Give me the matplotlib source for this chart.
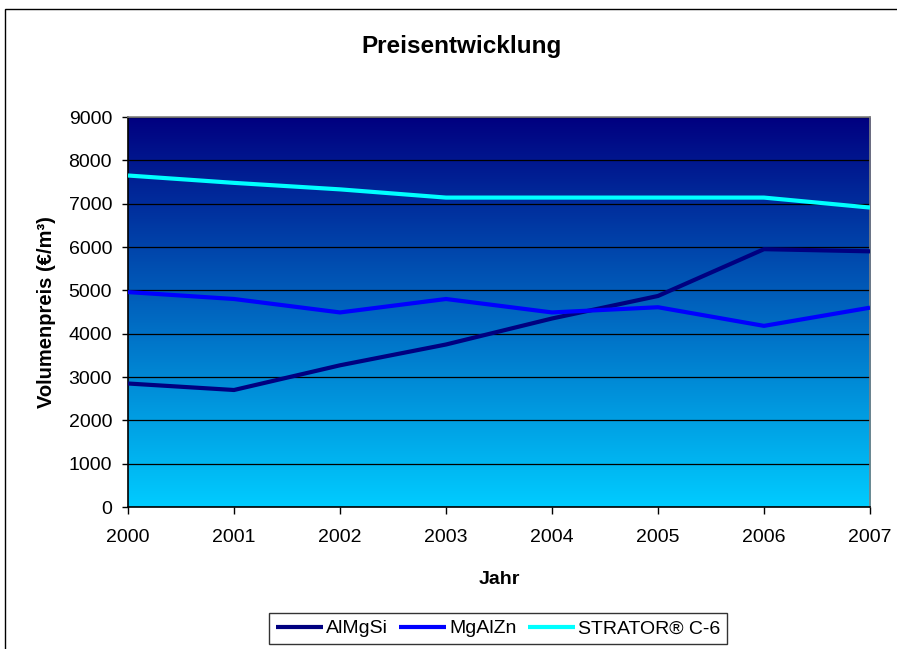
import numpy as np
import matplotlib
matplotlib.use("Agg")
import matplotlib.pyplot as plt
from matplotlib.patches import Rectangle
from matplotlib.colors import LinearSegmentedColormap

plt.rcParams['font.family'] = ['Liberation Sans', 'DejaVu Sans']

years = ["2000", "2001", "2002", "2003", "2004", "2005", "2006", "2007"]
almgsi = [2850, 2700, 3270, 3750, 4350, 4870, 5950, 5900]
mgalzn = [4960, 4800, 4490, 4800, 4490, 4610, 4180, 4600]
strator = [7650, 7480, 7330, 7140, 7140, 7140, 7140, 6910]

series_names = ["AlMgSi", "MgAlZn", "STRATOR\u00ae C-6"]
series_colors = ["#000080", "#0000FF", "#00FFFF"]
y_ticks = [0, 1000, 2000, 3000, 4000, 5000, 6000, 7000, 8000, 9000]

W, H = 897, 649
fig = plt.figure(figsize=(W / 100, H / 100), dpi=100)
ax = fig.add_axes([128 / W, 1 - 507 / H, (870 - 128) / W, (507 - 117) / H])

x = np.arange(len(years))
ymax = y_ticks[-1]

# vertical gradient background of the plot area
grad_cmap = LinearSegmentedColormap.from_list("bg", ["#00CCFF", "#000080"])
grad = np.linspace(0, 1, 256).reshape(-1, 1)
ax.imshow(grad, cmap=grad_cmap, origin="lower", aspect="auto",
          extent=[x[0], x[-1], 0, ymax], zorder=0, interpolation="bilinear")

for vals, name, col in zip([almgsi, mgalzn, strator], series_names, series_colors):
    ax.plot(x, vals, color=col, lw=3, label=name, solid_capstyle="butt", zorder=3)

ax.set_xlim(x[0], x[-1])
ax.set_ylim(0, ymax)
ax.set_xticks(x)
ax.set_xticklabels(years)
ax.set_yticks(y_ticks)
ax.yaxis.grid(True, color="black", lw=0.9)
ax.xaxis.grid(False)

ax.tick_params(axis="x", direction="out", length=5, width=1, pad=11, labelsize=14)
ax.tick_params(axis="y", direction="out", length=4.5, width=1, pad=7, labelsize=14)

for side in ["top", "right"]:
    ax.spines[side].set_color("#808080")
    ax.spines[side].set_linewidth(1.2)
for side in ["left", "bottom"]:
    ax.spines[side].set_color("black")
    ax.spines[side].set_linewidth(1.2)

ax.set_xlabel("Jahr", fontsize=14, fontweight="bold", labelpad=18)
ax.set_ylabel("Volumenpreis (\u20ac/m\u00b3)", fontsize=14.5, fontweight="bold", labelpad=9)

fig.text(461 / W, 1 - 47 / H, "Preisentwicklung", fontsize=17.5, fontweight="bold",
         ha="center", va="center")

leg = fig.legend(loc="upper center", bbox_to_anchor=(498 / W, 1 - 613 / H), ncol=3,
                 fontsize=14, frameon=True, fancybox=False, edgecolor="black",
                 handlelength=2.4, handletextpad=0.15, columnspacing=0.6,
                 borderpad=0.35, borderaxespad=0)
leg.get_frame().set_linewidth(1.0)

# outer chart frame
fig.add_artist(Rectangle((5 / W, -0.1), 1.2, 1.1 - 9 / H, transform=fig.transFigure,
                         fill=False, ec="black", lw=1.0))

fig.savefig("out.png", dpi=100)
